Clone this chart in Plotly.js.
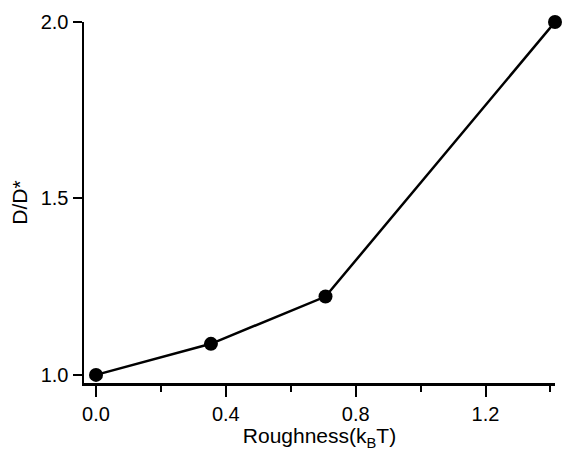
<!DOCTYPE html>
<html>
<head>
<meta charset="utf-8">
<script src="https://cdn.plot.ly/plotly-3.0.1.min.js"></script>
<style>html,body{margin:0;padding:0;background:#fff;}#chart{width:564px;height:452px;}</style>
</head>
<body>
<div id="chart"></div>
<script>
const roughness = [0.0, 0.354, 0.707, 1.414];
const ratio = [1.0, 1.088, 1.222, 2.0];
const xTickVals = [0.0, 0.4, 0.8, 1.2];
const xTickText = ['0.0', '0.4', '0.8', '1.2'];
const yTickVals = [1.0, 1.5, 2.0];
const yTickText = ['1.0', '1.5', '2.0'];

const trace = {
  x: roughness,
  y: ratio,
  type: 'scatter',
  mode: 'lines+markers',
  line: {color: '#000', width: 2.5},
  marker: {color: '#000', size: 14},
  cliponaxis: false,
  hoverinfo: 'none'
};

const layout = {
  width: 564,
  height: 452,
  margin: {l: 84, r: 9, t: 22, b: 69},
  paper_bgcolor: '#fff',
  plot_bgcolor: '#fff',
  showlegend: false,
  font: {family: 'Liberation Sans, Arial, sans-serif', color: '#000', size: 20},
  xaxis: {
    range: [-0.037, 1.414],
    tickvals: xTickVals,
    ticktext: xTickText,
    ticks: 'outside',
    ticklen: 11,
    tickwidth: 2,
    tickcolor: '#000',
    showline: true,
    linecolor: '#000',
    linewidth: 2.5,
    showgrid: false,
    zeroline: false,
    tickfont: {size: 20},
    minor: {dtick: 0.2, tick0: 0, ticks: 'outside', ticklen: 6, tickwidth: 2, tickcolor: '#000', showgrid: false},
    title: {text: 'Roughness(k<sub>B</sub>T)', font: {size: 21}, standoff: 3}
  },
  yaxis: {
    range: [0.977, 2.0],
    tickvals: yTickVals,
    ticktext: yTickText,
    ticks: 'outside',
    ticklen: 9,
    tickwidth: 2,
    tickcolor: '#000',
    showline: true,
    linecolor: '#000',
    linewidth: 2.5,
    showgrid: false,
    zeroline: false,
    tickfont: {size: 20},
    title: {text: 'D/D*', font: {size: 21}, standoff: 8}
  }
};

Plotly.newPlot('chart', [trace], layout, {staticPlot: true, displayModeBar: false});
</script>
</body>
</html>
